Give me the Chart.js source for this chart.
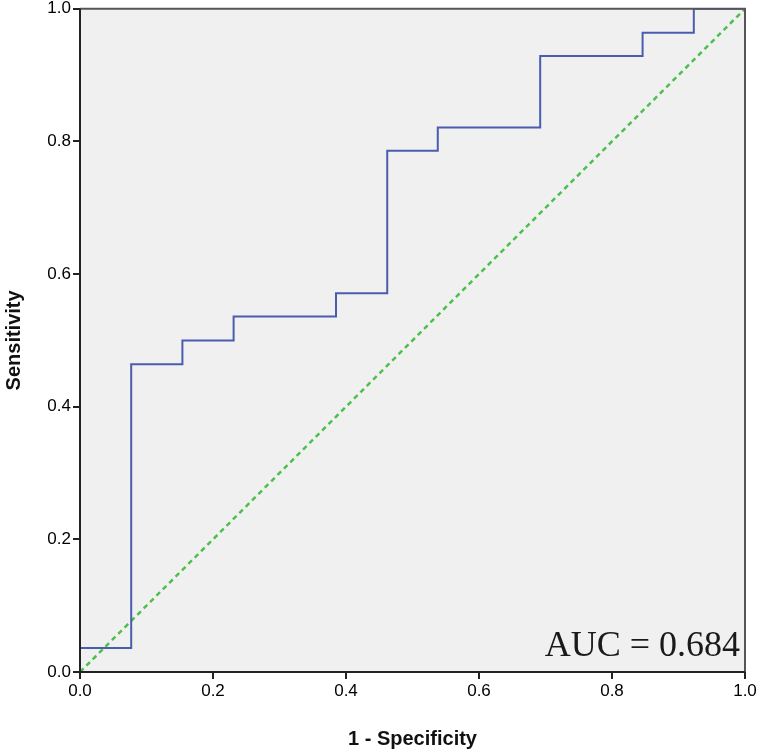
<!DOCTYPE html>
<html>
<head>
<meta charset="utf-8">
<script src="https://cdn.jsdelivr.net/npm/chart.js@4"></script>
<style>
    html, body { margin: 0; padding: 0; background: #fff; }
    .m-chart { position: relative; width: 759px; height: 751px; }
</style>
</head>
<body>
<div class="m-chart"><canvas id="rocChart"></canvas></div>
<script>
// ROC curve corner points (1 - specificity, sensitivity)
const fpr = [0, 0, 0.077, 0.077, 0.154, 0.154, 0.231, 0.231, 0.385, 0.385, 0.462, 0.462, 0.538, 0.538, 0.692, 0.692, 0.846, 0.846, 0.923, 0.923, 1];
const tpr = [0, 0.036, 0.036, 0.464, 0.464, 0.5, 0.5, 0.536, 0.536, 0.571, 0.571, 0.786, 0.786, 0.821, 0.821, 0.929, 0.929, 0.964, 0.964, 1, 1];
const refX = [0, 1];
const refY = [0, 1];
const tickValues = [0, 0.2, 0.4, 0.6, 0.8, 1.0];
const aucLabel = 'AUC = 0.684';

const rocPoints = fpr.map((x, i) => ({ x: x, y: tpr[i] }));
const refPoints = refX.map((x, i) => ({ x: x, y: refY[i] }));

// grey plot background + frame + AUC text
const plotFrame = {
    id: 'plotFrame',
    beforeDraw(chart) {
        const a = chart.chartArea, ctx = chart.ctx;
        ctx.save();
        ctx.fillStyle = '#f0f0f0';
        ctx.fillRect(a.left, a.top, a.right - a.left, a.bottom - a.top);
        ctx.restore();
    },
    afterDraw(chart) {
        const a = chart.chartArea, ctx = chart.ctx;
        ctx.save();
        ctx.strokeStyle = '#555';
        ctx.lineWidth = 2;
        ctx.beginPath();
        ctx.moveTo(a.left, a.top);
        ctx.lineTo(a.right, a.top);
        ctx.lineTo(a.right, a.bottom);
        ctx.stroke();
        ctx.strokeStyle = '#222';
        ctx.beginPath();
        ctx.moveTo(a.left, a.top);
        ctx.lineTo(a.left, a.bottom);
        ctx.lineTo(a.right, a.bottom);
        ctx.stroke();
        ctx.fillStyle = '#1a1a1a';
        ctx.font = '36px "Liberation Serif", "Times New Roman", serif';
        ctx.textAlign = 'right';
        ctx.textBaseline = 'alphabetic';
        ctx.fillText(aucLabel, a.right - 5, a.bottom - 16);
        ctx.restore();
    }
};

const tickFont = { family: 'Arial, "Liberation Sans", sans-serif', size: 17 };
const yTickFont = { family: 'Arial, "Liberation Sans", sans-serif', size: 17, lineHeight: 0.8 };
const titleFont = { family: 'Arial, "Liberation Sans", sans-serif', size: 20, weight: 'bold' };

new Chart(document.getElementById('rocChart').getContext('2d'), {
    type: 'scatter',
    data: {
        datasets: [{
            label: 'ROC',
            data: rocPoints,
            showLine: true,
            borderColor: '#4a5cb0',
            borderWidth: 2,
            pointRadius: 0,
            fill: false,
            tension: 0,
            order: 1
        }, {
            label: 'Reference',
            data: refPoints,
            showLine: true,
            borderColor: '#4cbf4c',
            borderWidth: 2.5,
            borderDash: [5, 4],
            pointRadius: 0,
            fill: false,
            order: 2
        }]
    },
    plugins: [plotFrame],
    options: {
        responsive: true,
        maintainAspectRatio: false,
        animation: false,
        layout: { padding: { top: 0, right: 14, bottom: 0, left: 0 } },
        plugins: {
            legend: { display: false },
            tooltip: { enabled: false }
        },
        scales: {
            x: {
                type: 'linear',
                min: 0,
                max: 1,
                afterBuildTicks(axis) { axis.ticks = tickValues.map(v => ({ value: v })); },
                afterFit(axis) { axis.height = 79; },
                ticks: {
                    color: '#000',
                    font: tickFont,
                    padding: 2,
                    maxRotation: 0,
                    callback: v => v.toFixed(1)
                },
                grid: {
                    drawOnChartArea: false,
                    drawTicks: true,
                    tickLength: 7,
                    color: '#222',
                    lineWidth: 2
                },
                border: { display: false },
                title: {
                    display: true,
                    text: '1 - Specificity',
                    color: '#111',
                    font: titleFont,
                    padding: { top: 10, bottom: 0 }
                }
            },
            y: {
                type: 'linear',
                min: 0,
                max: 1,
                afterBuildTicks(axis) { axis.ticks = tickValues.map(v => ({ value: v })); },
                afterFit(axis) { axis.width = 80; },
                ticks: {
                    color: '#000',
                    font: yTickFont,
                    padding: 2,
                    callback: v => v.toFixed(1)
                },
                grid: {
                    drawOnChartArea: false,
                    drawTicks: true,
                    tickLength: 7,
                    color: '#222',
                    lineWidth: 2
                },
                border: { display: false },
                title: {
                    display: true,
                    text: 'Sensitivity',
                    color: '#111',
                    font: titleFont,
                    padding: { top: 2, bottom: 16 }
                }
            }
        }
    }
});
</script>
</body>
</html>
